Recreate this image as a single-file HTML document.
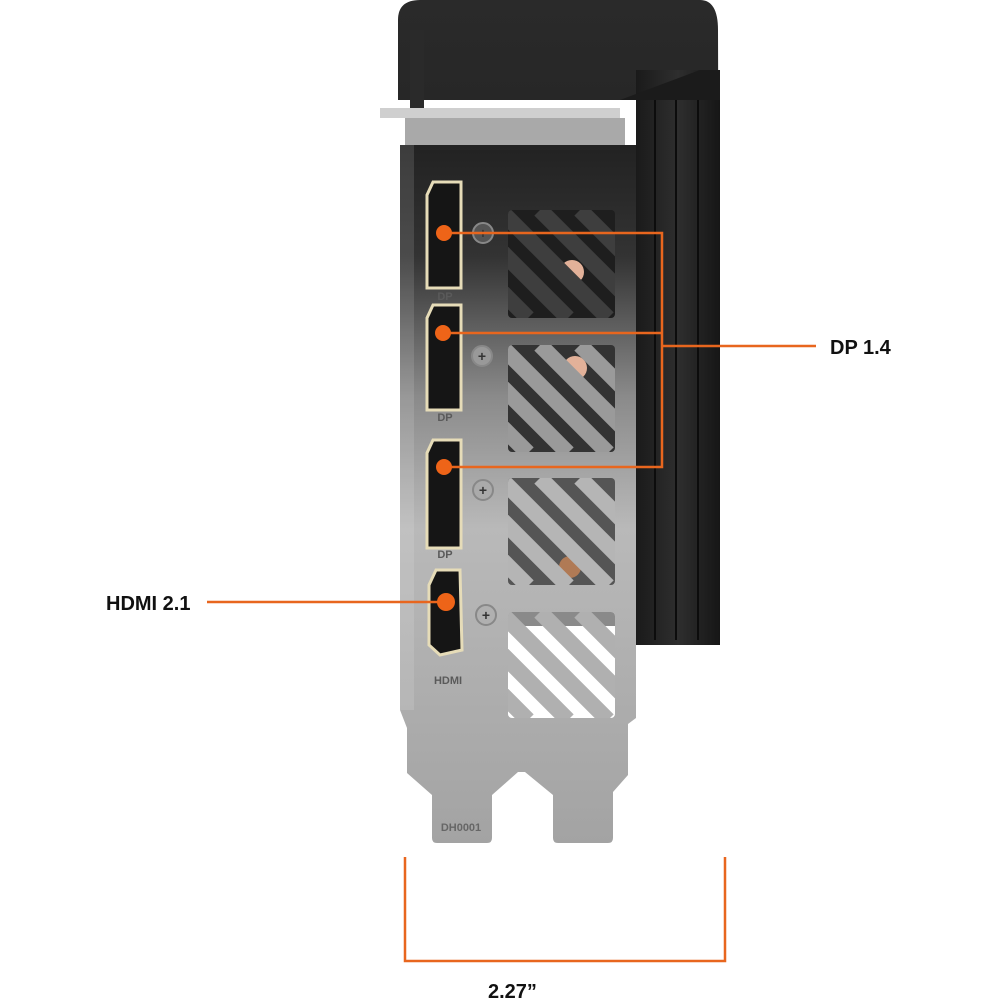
<!DOCTYPE html>
<html><head><meta charset="utf-8"><style>
html,body{margin:0;padding:0;background:#fff;}
svg{display:block;}
text{font-family:"Liberation Sans",sans-serif;font-weight:bold;}
</style></head><body>
<svg width="1000" height="1000" viewBox="0 0 1000 1000" xmlns="http://www.w3.org/2000/svg">
<defs>
<linearGradient id="brk" x1="0" y1="0" x2="0" y2="1">
<stop offset="0" stop-color="#222"/>
<stop offset="0.16" stop-color="#333"/>
<stop offset="0.36" stop-color="#8a8a8a"/>
<stop offset="0.55" stop-color="#b9b9b9"/>
<stop offset="1" stop-color="#a3a3a3"/>
</linearGradient>
<linearGradient id="fin" x1="0" y1="0" x2="1" y2="0">
<stop offset="0" stop-color="#1a1a1a"/>
<stop offset="0.5" stop-color="#2e2e2e"/>
<stop offset="1" stop-color="#161616"/>
</linearGradient>
<linearGradient id="top" x1="0" y1="0" x2="0" y2="1">
<stop offset="0" stop-color="#2a2a2a"/>
<stop offset="1" stop-color="#161616"/>
</linearGradient>
<clipPath id="v1"><rect x="508" y="210" width="107" height="108" rx="4"/></clipPath>
<clipPath id="v2"><rect x="508" y="345" width="107" height="107" rx="4"/></clipPath>
<clipPath id="v3"><rect x="508" y="478" width="107" height="107" rx="4"/></clipPath>
<clipPath id="v4"><rect x="508" y="612" width="107" height="106" rx="4"/></clipPath>
</defs>

<!-- black shroud -->
<path d="M398,20 Q398,0 420,0 L700,0 Q718,0 718,30 L720,645 L636,645 L636,100 L398,100 Z" fill="url(#top)"/>
<rect x="636" y="70" width="84" height="575" fill="url(#fin)"/>
<g stroke="#0c0c0c" stroke-width="2">
<line x1="655" y1="90" x2="655" y2="640"/><line x1="676" y1="80" x2="676" y2="640"/><line x1="698" y1="80" x2="698" y2="640"/>
</g>
<path d="M620,100 L720,100 L720,70 L700,70 Z" fill="#1b1b1b"/>
<rect x="410" y="30" width="14" height="80" fill="#2a2a2a"/>

<!-- top bar -->
<rect x="380" y="108" width="240" height="10" fill="#cfcfcf"/>
<rect x="405" y="118" width="220" height="28" fill="#a9a9a9"/>

<!-- bracket -->
<path d="M400,145 L636,145 L636,718 L628,724 L628,775 L613,792 L613,838 Q613,843 608,843 L558,843 Q553,843 553,838 L553,795 L525,772 L518,772 L492,795 L492,838 Q492,843 487,843 L437,843 Q432,843 432,838 L432,795 L407,773 L407,728 L400,710 Z" fill="url(#brk)"/>
<rect x="400" y="145" width="14" height="565" fill="#ffffff" opacity="0.12"/>

<!-- vents -->
<g clip-path="url(#v1)"><rect x="500" y="200" width="130" height="130" fill="#1e1e1e"/>
<circle cx="572" cy="272" r="12" fill="#e2b199"/>
<g stroke="#3e3e3e" stroke-width="16"><line x1="420" y1="210" x2="528" y2="318"/><line x1="460" y1="210" x2="568" y2="318"/><line x1="500" y1="210" x2="608" y2="318"/><line x1="540" y1="210" x2="648" y2="318"/><line x1="580" y1="210" x2="688" y2="318"/></g></g>
<g clip-path="url(#v2)"><rect x="500" y="335" width="130" height="130" fill="#333"/>
<circle cx="575" cy="368" r="12" fill="#e2b199"/>
<g stroke="#9a9a9a" stroke-width="16"><line x1="420" y1="345" x2="528" y2="453"/><line x1="460" y1="345" x2="568" y2="453"/><line x1="500" y1="345" x2="608" y2="453"/><line x1="540" y1="345" x2="648" y2="453"/><line x1="580" y1="345" x2="688" y2="453"/></g></g>
<g clip-path="url(#v3)"><rect x="500" y="470" width="130" height="130" fill="#555"/>
<circle cx="570" cy="567" r="11" fill="#b07a55"/>
<g stroke="#b5b5b5" stroke-width="16"><line x1="420" y1="478" x2="528" y2="586"/><line x1="460" y1="478" x2="568" y2="586"/><line x1="500" y1="478" x2="608" y2="586"/><line x1="540" y1="478" x2="648" y2="586"/><line x1="580" y1="478" x2="688" y2="586"/></g></g>
<g clip-path="url(#v4)"><rect x="500" y="600" width="130" height="130" fill="#ffffff"/>
<rect x="508" y="612" width="107" height="14" fill="#8a8a8a"/>
<g stroke="#b0b0b0" stroke-width="16"><line x1="420" y1="612" x2="528" y2="720"/><line x1="460" y1="612" x2="568" y2="720"/><line x1="500" y1="612" x2="608" y2="720"/><line x1="540" y1="612" x2="648" y2="720"/><line x1="580" y1="612" x2="688" y2="720"/></g></g>

<!-- screws -->
<g stroke="#888" stroke-width="2">
<circle cx="483" cy="233" r="10" fill="#555"/><circle cx="482" cy="356" r="10" fill="#999"/>
<circle cx="483" cy="490" r="10" fill="#aaa"/><circle cx="486" cy="615" r="10" fill="#b0b0b0"/>
</g>
<g fill="#333" font-size="14" text-anchor="middle"><text x="483" y="238">+</text><text x="482" y="361">+</text><text x="483" y="495">+</text><text x="486" y="620">+</text></g>

<!-- ports -->
<g stroke="#e6dcb8" stroke-width="3" fill="#151515">
<path d="M433,182 L461,182 L461,288 L427,288 L427,195 Z"/>
<path d="M433,305 L461,305 L461,410 L427,410 L427,318 Z"/>
<path d="M433,440 L461,440 L461,548 L427,548 L427,453 Z"/>
<path d="M436,570 L460,570 L462,650 L440,655 L429,645 L429,585 Z"/>
</g>
<g fill="#5a5a5a" font-size="11" text-anchor="middle"><text x="445" y="300">DP</text><text x="445" y="421">DP</text><text x="445" y="558">DP</text><text x="448" y="684">HDMI</text></g>
<text x="461" y="831" font-size="11" fill="#666" font-weight="normal" text-anchor="middle">DH0001</text>

<!-- callouts -->
<g stroke="#e8661e" stroke-width="2.5" fill="none">
<polyline points="444,233 662,233 662,467 444,467"/>
<line x1="443" y1="333" x2="662" y2="333"/>
<line x1="662" y1="346" x2="816" y2="346"/>
<line x1="207" y1="602" x2="446" y2="602"/>
<polyline points="405,857 405,961 725,961 725,857"/>
</g>
<g fill="#ee6418"><circle cx="444" cy="233" r="8"/><circle cx="443" cy="333" r="8"/><circle cx="444" cy="467" r="8"/><circle cx="446" cy="602" r="9"/></g>

<text x="830" y="354" font-size="20" fill="#111">DP 1.4</text>
<text x="106" y="610" font-size="20" fill="#111">HDMI 2.1</text>
<text x="488" y="998" font-size="20" fill="#111">2.27”</text>
</svg>
</body></html>
